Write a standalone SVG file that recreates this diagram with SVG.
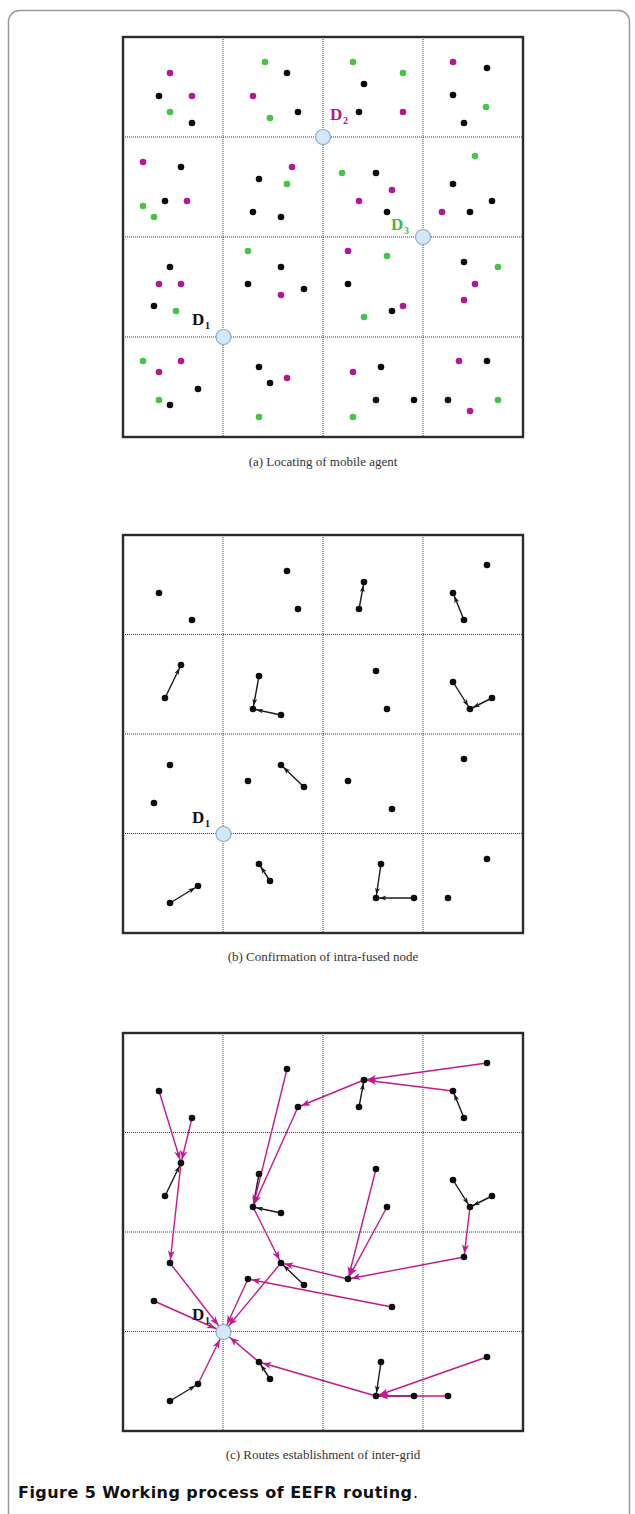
<svg xmlns="http://www.w3.org/2000/svg" width="635" height="1514" viewBox="0 0 635 1514">
<style>
.frame{fill:none;stroke:#9a9a9a;stroke-width:1.5}
.panel{fill:#fff;stroke:#2b2b2b;stroke-width:2.4}
.grid{stroke:#3a3a3a;stroke-width:1;stroke-dasharray:1 1;fill:none}
.k{fill:#0b0b0b}
.m{fill:#b4178e}
.g{fill:#45c445}
.dn{fill:#d2e8f8;stroke:#8aaecb;stroke-width:1.2}
.sub{font-family:"Liberation Serif",serif;font-size:13px;fill:#333;text-anchor:middle}
.lbl{font-family:"Liberation Serif",serif;font-weight:bold;font-size:17px}
.lbls{font-family:"Liberation Serif",serif;font-weight:bold;font-size:10px}
.ba{stroke:#1a1a1a;stroke-width:1.4;fill:none;marker-end:url(#ah-k)}
.ma{stroke:#c2198f;stroke-width:1.4;fill:none;marker-end:url(#ah-m)}
.md{stroke:#c2198f;stroke-width:1.4;fill:none;marker-end:url(#ah-md)}
.cap{font-family:"DejaVu Sans","Liberation Sans",sans-serif;font-size:16px;fill:#111}
</style>
<defs>
<marker id="ah-k" markerUnits="userSpaceOnUse" markerWidth="12" markerHeight="6" refX="10.3" refY="2.5" orient="auto" overflow="visible"><path d="M0,0 L7,2.5 L0,5 L2,2.5 Z" fill="#1a1a1a"/></marker>
<marker id="ah-m" markerUnits="userSpaceOnUse" markerWidth="14" markerHeight="8" refX="12.5" refY="3.5" orient="auto" overflow="visible"><path d="M0,0 L9,3.5 L0,7 L2.5,3.5 Z" fill="#c2198f"/></marker>
<marker id="ah-md" markerUnits="userSpaceOnUse" markerWidth="18" markerHeight="8" refX="17.5" refY="3.5" orient="auto" overflow="visible"><path d="M0,0 L9,3.5 L0,7 L2.5,3.5 Z" fill="#c2198f"/></marker>
</defs>
<rect width="635" height="1514" fill="#fff"/>
<rect class="frame" x="8.5" y="10.5" width="621" height="1520" rx="11"/>

<!-- Panel (a) -->
<g id="panel-a">
<rect class="panel" x="123" y="37" width="400" height="400"/>
<path class="grid" d="M223,37V437M323,37V437M423,37V437M123,137H523M123,237H523M123,337H523"/>
<g id="a-dots-magenta" class="m">
<circle cx="170" cy="73" r="3.3"/><circle cx="192" cy="96" r="3.3"/><circle cx="253" cy="96" r="3.3"/><circle cx="143" cy="162" r="3.3"/><circle cx="187" cy="201" r="3.3"/><circle cx="292" cy="167" r="3.3"/><circle cx="403" cy="112" r="3.3"/><circle cx="453" cy="62" r="3.3"/><circle cx="392" cy="190" r="3.3"/><circle cx="359" cy="201" r="3.3"/><circle cx="442" cy="212" r="3.3"/><circle cx="159" cy="284" r="3.3"/><circle cx="181" cy="284" r="3.3"/><circle cx="281" cy="295" r="3.3"/><circle cx="181" cy="361" r="3.3"/><circle cx="159" cy="372" r="3.3"/><circle cx="287" cy="378" r="3.3"/><circle cx="348" cy="251" r="3.3"/><circle cx="403" cy="306" r="3.3"/><circle cx="475" cy="284" r="3.3"/><circle cx="464" cy="300" r="3.3"/><circle cx="353" cy="372" r="3.3"/><circle cx="459" cy="361" r="3.3"/><circle cx="470" cy="411" r="3.3"/>
</g>
<g id="a-dots-green" class="g">
<circle cx="170" cy="112" r="3.3"/><circle cx="265" cy="62" r="3.3"/><circle cx="270" cy="118" r="3.3"/><circle cx="143" cy="206" r="3.3"/><circle cx="154" cy="217" r="3.3"/><circle cx="287" cy="184" r="3.3"/><circle cx="353" cy="62" r="3.3"/><circle cx="403" cy="73" r="3.3"/><circle cx="486" cy="107" r="3.3"/><circle cx="342" cy="173" r="3.3"/><circle cx="475" cy="156" r="3.3"/><circle cx="176" cy="311" r="3.3"/><circle cx="248" cy="251" r="3.3"/><circle cx="143" cy="361" r="3.3"/><circle cx="159" cy="400" r="3.3"/><circle cx="259" cy="417" r="3.3"/><circle cx="387" cy="256" r="3.3"/><circle cx="364" cy="317" r="3.3"/><circle cx="498" cy="267" r="3.3"/><circle cx="353" cy="417" r="3.3"/><circle cx="498" cy="400" r="3.3"/>
</g>
<g id="a-dots-black" class="k">
<circle cx="159" cy="96" r="3.3"/><circle cx="192" cy="123" r="3.3"/><circle cx="287" cy="73" r="3.3"/><circle cx="298" cy="112" r="3.3"/><circle cx="181" cy="167" r="3.3"/><circle cx="165" cy="201" r="3.3"/><circle cx="259" cy="179" r="3.3"/><circle cx="253" cy="212" r="3.3"/><circle cx="281" cy="217" r="3.3"/><circle cx="364" cy="84" r="3.3"/><circle cx="359" cy="112" r="3.3"/><circle cx="487" cy="68" r="3.3"/><circle cx="453" cy="95" r="3.3"/><circle cx="464" cy="123" r="3.3"/><circle cx="376" cy="173" r="3.3"/><circle cx="387" cy="212" r="3.3"/><circle cx="453" cy="184" r="3.3"/><circle cx="492" cy="201" r="3.3"/><circle cx="470" cy="212" r="3.3"/><circle cx="170" cy="267" r="3.3"/><circle cx="154" cy="306" r="3.3"/><circle cx="281" cy="267" r="3.3"/><circle cx="248" cy="284" r="3.3"/><circle cx="304" cy="289" r="3.3"/><circle cx="198" cy="389" r="3.3"/><circle cx="170" cy="405" r="3.3"/><circle cx="259" cy="367" r="3.3"/><circle cx="270" cy="383" r="3.3"/><circle cx="348" cy="284" r="3.3"/><circle cx="392" cy="311" r="3.3"/><circle cx="464" cy="262" r="3.3"/><circle cx="381" cy="367" r="3.3"/><circle cx="376" cy="400" r="3.3"/><circle cx="414" cy="400" r="3.3"/><circle cx="487" cy="361" r="3.3"/><circle cx="448" cy="400" r="3.3"/>
</g>
<g id="a-D2"><circle class="dn" cx="323" cy="137" r="7.5"/><text class="lbl" x="330" y="120" fill="#b4178e">D</text><text class="lbls" x="343" y="124" fill="#b4178e">2</text></g>
<g id="a-D3"><circle class="dn" cx="423" cy="237" r="7.5"/><text class="lbl" x="391" y="230" fill="#45b845">D</text><text class="lbls" x="404" y="234" fill="#45b845">3</text></g>
<g id="a-D1"><circle class="dn" cx="223.5" cy="337" r="7.5"/><text class="lbl" x="192" y="325" fill="#111">D</text><text class="lbls" x="205" y="329" fill="#111">1</text></g>
<text class="sub" x="323" y="466">(a) Locating of mobile agent</text>
</g>

<!-- Panel (b) -->
<g id="panel-b">
<rect class="panel" x="123" y="535" width="400" height="398"/>
<path class="grid" d="M223,535V933M323,535V933M423,535V933M123,634.5H523M123,734H523M123,833.5H523"/>
<g id="b-connectors">
<line class="ba" x1="165" y1="698" x2="181" y2="665"/>
<line class="ba" x1="259" y1="676" x2="253" y2="709"/>
<line class="ba" x1="281" y1="715" x2="253" y2="709"/>
<line class="ba" x1="359" y1="609" x2="364" y2="582"/>
<line class="ba" x1="464" y1="620" x2="453" y2="593"/>
<line class="ba" x1="453" y1="682" x2="470" y2="709"/>
<line class="ba" x1="492" y1="698" x2="470" y2="709"/>
<line class="ba" x1="304" y1="787" x2="281" y2="765"/>
<line class="ba" x1="170" y1="903" x2="198" y2="886"/>
<line class="ba" x1="270" y1="881" x2="259" y2="864"/>
<line class="ba" x1="381" y1="864" x2="376" y2="898"/>
<line class="ba" x1="414" y1="898" x2="376" y2="898"/>
</g>
<g id="b-nodes" class="k">
<circle cx="159" cy="593" r="3.3"/><circle cx="192" cy="620" r="3.3"/><circle cx="287" cy="571" r="3.3"/><circle cx="298" cy="609" r="3.3"/><circle cx="165" cy="698" r="3.3"/><circle cx="181" cy="665" r="3.3"/><circle cx="259" cy="676" r="3.3"/><circle cx="253" cy="709" r="3.3"/><circle cx="281" cy="715" r="3.3"/><circle cx="359" cy="609" r="3.3"/><circle cx="364" cy="582" r="3.3"/><circle cx="464" cy="620" r="3.3"/><circle cx="453" cy="593" r="3.3"/><circle cx="487" cy="565" r="3.3"/><circle cx="376" cy="671" r="3.3"/><circle cx="387" cy="709" r="3.3"/><circle cx="453" cy="682" r="3.3"/><circle cx="470" cy="709" r="3.3"/><circle cx="492" cy="698" r="3.3"/><circle cx="170" cy="765" r="3.3"/><circle cx="154" cy="803" r="3.3"/><circle cx="248" cy="781" r="3.3"/><circle cx="304" cy="787" r="3.3"/><circle cx="281" cy="765" r="3.3"/><circle cx="170" cy="903" r="3.3"/><circle cx="198" cy="886" r="3.3"/><circle cx="270" cy="881" r="3.3"/><circle cx="259" cy="864" r="3.3"/><circle cx="348" cy="781" r="3.3"/><circle cx="392" cy="809" r="3.3"/><circle cx="464" cy="759" r="3.3"/><circle cx="381" cy="864" r="3.3"/><circle cx="376" cy="898" r="3.3"/><circle cx="414" cy="898" r="3.3"/><circle cx="487" cy="859" r="3.3"/><circle cx="448" cy="898" r="3.3"/>
</g>
<g id="b-D1"><circle class="dn" cx="223.5" cy="834" r="7.5"/><text class="lbl" x="192" y="823" fill="#111">D</text><text class="lbls" x="205" y="827" fill="#111">1</text></g>
<text class="sub" x="323" y="961">(b) Confirmation of intra-fused node</text>
</g>

<!-- Panel (c) -->
<g id="panel-c">
<rect class="panel" x="123" y="1033" width="400" height="398"/>
<path class="grid" d="M223,1033V1431M323,1033V1431M423,1033V1431M123,1132.5H523M123,1232H523M123,1331.5H523"/>
<g id="c-connectors">
<line class="ba" x1="165" y1="1196" x2="181" y2="1163"/>
<line class="ba" x1="259" y1="1174" x2="253" y2="1207"/>
<line class="ba" x1="281" y1="1213" x2="253" y2="1207"/>
<line class="ba" x1="359" y1="1107" x2="364" y2="1080"/>
<line class="ba" x1="464" y1="1118" x2="453" y2="1091"/>
<line class="ba" x1="453" y1="1180" x2="470" y2="1207"/>
<line class="ba" x1="492" y1="1196" x2="470" y2="1207"/>
<line class="ba" x1="304" y1="1285" x2="281" y2="1263"/>
<line class="ba" x1="170" y1="1401" x2="198" y2="1384"/>
<line class="ba" x1="270" y1="1379" x2="259" y2="1362"/>
<line class="ba" x1="381" y1="1362" x2="376" y2="1396"/>
<line class="ba" x1="414" y1="1396" x2="376" y2="1396"/>
<line class="ma" x1="159" y1="1091" x2="181" y2="1163"/>
<line class="ma" x1="192" y1="1118" x2="181" y2="1163"/>
<line class="ma" x1="181" y1="1163" x2="170" y2="1263"/>
<line class="ma" x1="287" y1="1069" x2="253" y2="1207"/>
<line class="ma" x1="298" y1="1107" x2="253" y2="1207"/>
<line class="ma" x1="487" y1="1063" x2="364" y2="1080"/>
<line class="ma" x1="453" y1="1091" x2="364" y2="1080"/>
<line class="ma" x1="364" y1="1080" x2="298" y2="1107"/>
<line class="ma" x1="253" y1="1207" x2="281" y2="1263"/>
<line class="ma" x1="376" y1="1169" x2="348" y2="1279"/>
<line class="ma" x1="387" y1="1207" x2="348" y2="1279"/>
<line class="ma" x1="470" y1="1207" x2="464" y2="1257"/>
<line class="ma" x1="464" y1="1257" x2="348" y2="1279"/>
<line class="ma" x1="348" y1="1279" x2="281" y2="1263"/>
<line class="ma" x1="392" y1="1307" x2="248" y2="1279"/>
<line class="ma" x1="487" y1="1357" x2="376" y2="1396"/>
<line class="ma" x1="448" y1="1396" x2="376" y2="1396"/>
<line class="ma" x1="376" y1="1396" x2="259" y2="1362"/>
<line class="md" x1="170" y1="1263" x2="223.5" y2="1332"/>
<line class="md" x1="154" y1="1301" x2="223.5" y2="1332"/>
<line class="md" x1="281" y1="1263" x2="223.5" y2="1332"/>
<line class="md" x1="248" y1="1279" x2="223.5" y2="1332"/>
<line class="md" x1="259" y1="1362" x2="223.5" y2="1332"/>
<line class="md" x1="198" y1="1384" x2="223.5" y2="1332"/>
</g>
<g id="c-nodes" class="k">
<circle cx="159" cy="1091" r="3.3"/><circle cx="192" cy="1118" r="3.3"/><circle cx="287" cy="1069" r="3.3"/><circle cx="298" cy="1107" r="3.3"/><circle cx="165" cy="1196" r="3.3"/><circle cx="181" cy="1163" r="3.3"/><circle cx="259" cy="1174" r="3.3"/><circle cx="253" cy="1207" r="3.3"/><circle cx="281" cy="1213" r="3.3"/><circle cx="359" cy="1107" r="3.3"/><circle cx="364" cy="1080" r="3.3"/><circle cx="464" cy="1118" r="3.3"/><circle cx="453" cy="1091" r="3.3"/><circle cx="487" cy="1063" r="3.3"/><circle cx="376" cy="1169" r="3.3"/><circle cx="387" cy="1207" r="3.3"/><circle cx="453" cy="1180" r="3.3"/><circle cx="470" cy="1207" r="3.3"/><circle cx="492" cy="1196" r="3.3"/><circle cx="170" cy="1263" r="3.3"/><circle cx="154" cy="1301" r="3.3"/><circle cx="248" cy="1279" r="3.3"/><circle cx="304" cy="1285" r="3.3"/><circle cx="281" cy="1263" r="3.3"/><circle cx="170" cy="1401" r="3.3"/><circle cx="198" cy="1384" r="3.3"/><circle cx="270" cy="1379" r="3.3"/><circle cx="259" cy="1362" r="3.3"/><circle cx="348" cy="1279" r="3.3"/><circle cx="392" cy="1307" r="3.3"/><circle cx="464" cy="1257" r="3.3"/><circle cx="381" cy="1362" r="3.3"/><circle cx="376" cy="1396" r="3.3"/><circle cx="414" cy="1396" r="3.3"/><circle cx="487" cy="1357" r="3.3"/><circle cx="448" cy="1396" r="3.3"/>
</g>
<g id="c-D1"><circle class="dn" cx="223.5" cy="1332" r="7.5"/><text class="lbl" x="192" y="1320" fill="#111">D</text><text class="lbls" x="205" y="1324" fill="#111">1</text></g>
<text class="sub" x="323" y="1459">(c) Routes establishment of inter-grid</text>
</g>

<text class="cap" x="18" y="1498" font-weight="bold" textLength="394" lengthAdjust="spacing">Figure 5 Working process of EEFR routing</text>
<text class="cap" x="413" y="1498">.</text>
</svg>
